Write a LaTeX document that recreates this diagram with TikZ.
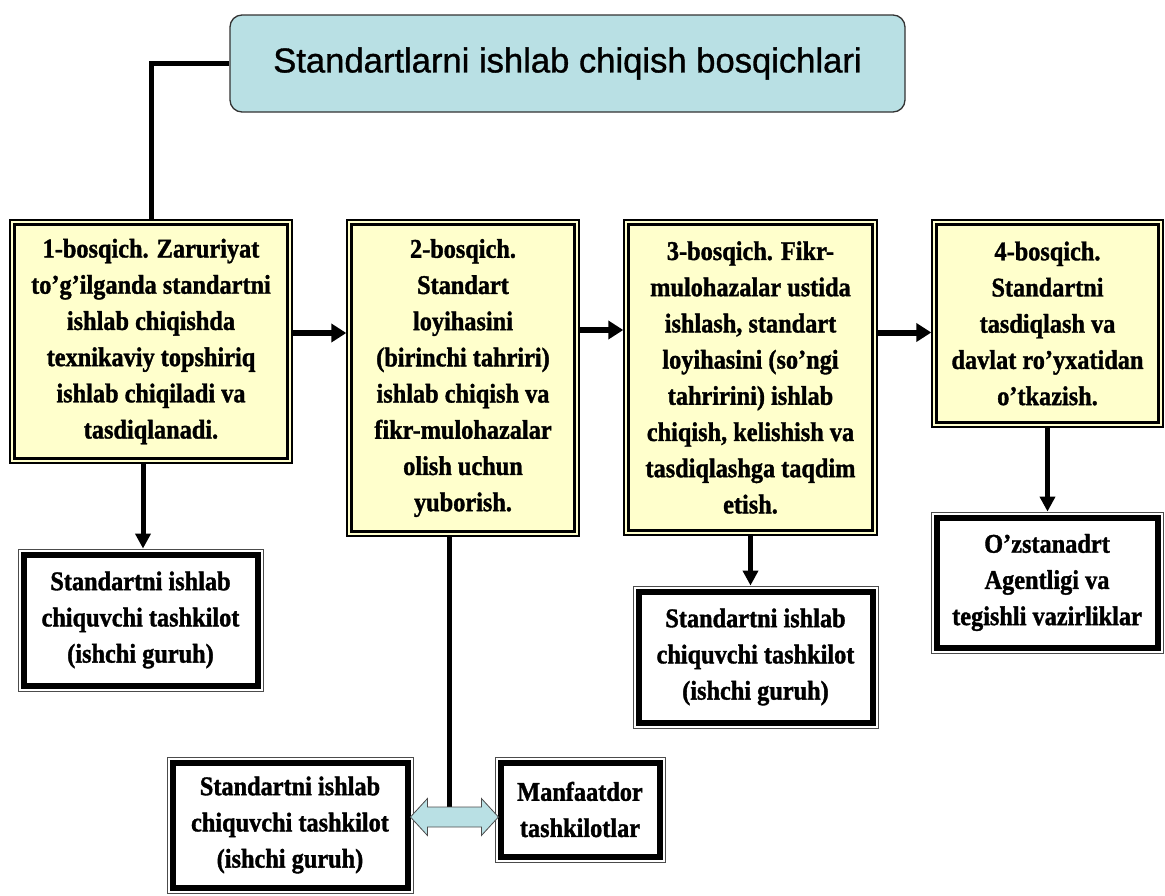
\documentclass[tikz,border=0pt]{standalone}
\usepackage{fontspec}
\setmainfont{Liberation Serif}
\newfontfamily\headfont{Liberation Sans}[RawFeature={embolden=1.0}]
\newfontfamily\boxfont{Liberation Serif Bold}[FakeStretch=0.9, RawFeature={embolden=1.3}]
\usetikzlibrary{arrows.meta,calc}
\definecolor{stagefill}{RGB}{255,255,204}
\definecolor{headfill}{RGB}{185,224,228}
\begin{document}
\begin{tikzpicture}[x=1pt,y=-1pt,
  every node/.style={inner sep=0pt, align=center},
  txt/.style={font=\boxfont\fontsize{27}{36.2}\selectfont},
  stagebox/.style={txt, draw=black, line width=1.4pt, fill=stagefill,
    path picture={\draw[draw=black, line width=2.4pt]
      ([shift={(4.5pt,-4.5pt)}]path picture bounding box.north west) rectangle
      ([shift={(-4.5pt,4.5pt)}]path picture bounding box.south east);}},
  orgbox/.style={txt, draw=black!70, line width=0.9pt, fill=white,
    path picture={\draw[draw=black, line width=6pt]
      ([shift={(5.5pt,-5.5pt)}]path picture bounding box.north west) rectangle
      ([shift={(-5.5pt,5.5pt)}]path picture bounding box.south east);}},
  headbox/.style={draw=black!80, line width=1.3pt, fill=headfill, rounded corners=12pt,
    font=\headfont\fontsize{34.6}{40}\selectfont},
  flow/.style={line width=6pt, -{Triangle[length=15pt,width=18pt]}},
  drop/.style={line width=5pt, -{Triangle[length=15pt,width=15pt]}},
  link/.style={line width=5pt},
  dblarrow/.style={draw=black!70, line width=0.8pt, fill=headfill, line join=miter}
]
\useasboundingbox (0,0) rectangle (1165,895);

% heading
\node[headbox, minimum width=675pt, minimum height=97pt] (head) at (567.5,63.5)
  {Standartlarni ishlab chiqish bosqichlari};

% the four stages
\node[stagebox, minimum width=282pt, minimum height=243pt] (s1) at (151,341.5)
  {1-bosqich. Zaruriyat\\to’g’ilganda standartni\\ishlab chiqishda\\texnikaviy topshiriq\\ishlab chiqiladi va\\tasdiqlanadi.};
\node[stagebox, minimum width=232pt, minimum height=316pt] (s2) at (463,378)
  {2-bosqich.\\Standart\\loyihasini\\(birinchi tahriri)\\ishlab chiqish va\\fikr-mulohazalar\\olish uchun\\yuborish.};
\node[stagebox, minimum width=253pt, minimum height=315pt] (s3) at (750.5,377.5)
  {3-bosqich. Fikr-\\mulohazalar ustida\\ishlash, standart\\loyihasini (so’ngi\\tahririni) ishlab\\chiqish, kelishish va\\tasdiqlashga taqdim\\etish.};
\node[stagebox, minimum width=231pt, minimum height=207pt] (s4) at (1047.5,323.5)
  {4-bosqich.\\Standartni\\tasdiqlash va\\davlat ro’yxatidan\\o’tkazish.};

% organisations
\node[orgbox, minimum width=245pt, minimum height=142pt] (oA) at (140.5,620)
  {Standartni ishlab\\chiquvchi tashkilot\\(ishchi guruh)};
\node[orgbox, minimum width=245pt, minimum height=142pt] (oB) at (755.5,657)
  {Standartni ishlab\\chiquvchi tashkilot\\(ishchi guruh)};
\node[orgbox, minimum width=232pt, minimum height=141pt] (oC) at (1047,582.5)
  {O’zstanadrt\\Agentligi va\\tegishli vazirliklar};
\node[orgbox, minimum width=246pt, minimum height=136pt] (oD) at (290,825)
  {Standartni ishlab\\chiquvchi tashkilot\\(ishchi guruh)};
\node[orgbox, minimum width=170pt, minimum height=105pt] (oE) at (580,809.5)
  {Manfaatdor\\tashkilotlar};

% connectors
\draw[link] (head.west) -| (s1.north);
\draw[flow] ([yshift=8.5pt]s1.east) -- ([yshift=8.5pt]s1.east -| s2.west);
\draw[flow] ([yshift=48pt]s2.east) -- ([yshift=48pt]s2.east -| s3.west);
\draw[flow] ([yshift=45pt]s3.east) -- ([yshift=45pt]s3.east -| s4.west);

\draw[drop] ([xshift=-8pt]s1.south) -- ([xshift=-8pt]s1.south |- oA.north);
\draw[drop] (s3.south) -- (s3.south |- oB.north);
\draw[drop] (s4.south) -- (s4.south |- oC.north);

% stage 2 feeds the two-way exchange
\coordinate (hub) at (449,807);
\draw[link] (s2.south -| hub) -- (hub);
\coordinate (dl) at ([shift={(-3pt,8pt)}]oD.east);
\draw[dblarrow] (dl) -- ++(17,-18.5) -- ++(0,8.5) -- ++(54,0) -- ++(0,-8.5)
  -- ++(17,18.5) -- ++(-17,18.5) -- ++(0,-8.5) -- ++(-54,0) -- ++(0,8.5) -- cycle;
\end{tikzpicture}
\end{document}
